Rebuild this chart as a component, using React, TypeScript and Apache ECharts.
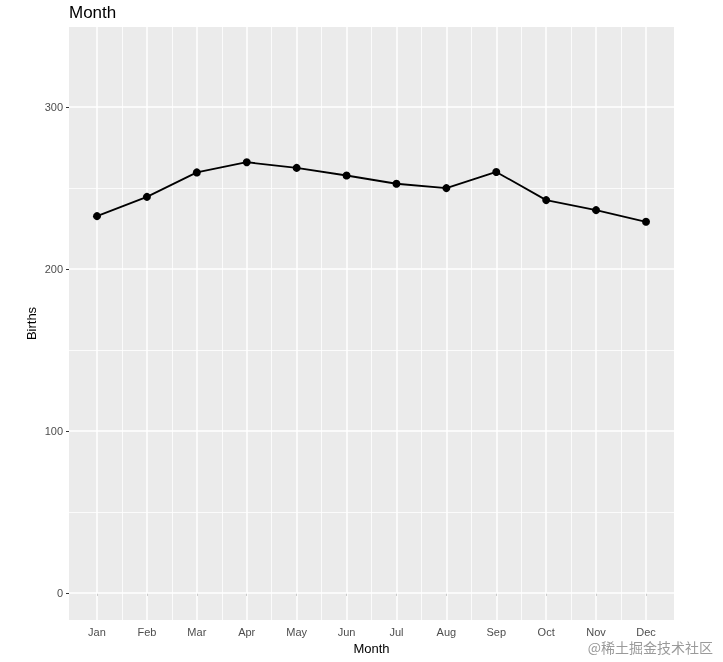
import React, { useEffect, useRef } from "react";
import * as echarts from "echarts";

const months = ["Jan", "Feb", "Mar", "Apr", "May", "Jun", "Jul", "Aug", "Sep", "Oct", "Nov", "Dec"];
const births = [232.7, 244.6, 259.7, 266.0, 262.5, 257.8, 252.7, 250.0, 260.0, 242.6, 236.4, 229.2];
const yTicks = [0, 100, 200, 300];
const yMinor = [50, 150, 250];

export default function App() {
  const ref = useRef<HTMLDivElement>(null);
  useEffect(() => {
    if (!ref.current) return;
    const chart = echarts.init(ref.current, null, { renderer: "svg" });
    const monthIdx = months.map((_, i) => i + 1);
    const xMinor = months.slice(0, -1).map((_, i) => i + 1.5);
    const font = "Liberation Sans, Arial, sans-serif";
    const gridLines = [
      ...yTicks.map((v) => ({ yAxis: v, lineStyle: { color: "#ffffff", width: 1.5, type: "solid" } })),
      ...yMinor.map((v) => ({ yAxis: v, lineStyle: { color: "#ffffff", width: 0.8, type: "solid" } })),
      ...monthIdx.map((v) => ({ xAxis: v, lineStyle: { color: "#ffffff", width: 1.5, type: "solid" } })),
      ...xMinor.map((v) => ({ xAxis: v, lineStyle: { color: "#ffffff", width: 0.8, type: "solid" } })),
    ];
    chart.setOption({
      animation: false,
      textStyle: { fontFamily: font },
      title: {
        text: "Month",
        left: 69,
        top: 4,
        padding: 0,
        textStyle: { fontSize: 17, fontWeight: "normal", color: "#000", fontFamily: font },
      },
      grid: {
        left: 69,
        top: 27,
        width: 605,
        height: 593,
        show: true,
        backgroundColor: "#ebebeb",
        borderWidth: 0,
        containLabel: false,
        outerBoundsMode: "none",
      },
      xAxis: {
        type: "value",
        min: 0.439,
        max: 12.561,
        name: "Month",
        nameLocation: "middle",
        nameGap: 22,
        nameMoveOverlap: false,
        nameTextStyle: { fontSize: 13, color: "#000", fontFamily: font },
        axisLine: { show: false },
        splitLine: { show: false },
        axisTick: { show: true, customValues: monthIdx, length: 3, lineStyle: { color: "#333" } },
        axisLabel: {
          customValues: monthIdx,
          formatter: (v: number) => months[Math.round(v) - 1] ?? "",
          fontSize: 11,
          color: "#4d4d4d",
          margin: 6,
          fontFamily: font,
        },
      },
      yAxis: {
        type: "value",
        min: -16.7,
        max: 349.5,
        name: "Births",
        nameLocation: "middle",
        nameRotate: 90,
        nameGap: 31,
        nameMoveOverlap: false,
        nameTextStyle: { fontSize: 13, color: "#000", fontFamily: font },
        axisLine: { show: false },
        splitLine: { show: false },
        axisTick: { show: true, customValues: yTicks, length: 3, lineStyle: { color: "#333" } },
        axisLabel: {
          customValues: yTicks,
          fontSize: 11,
          color: "#4d4d4d",
          margin: 6,
          fontFamily: font,
        },
      },
      series: [
        {
          type: "line",
          data: months.map((_, i) => [i + 1, births[i]]),
          symbol: "none",
          lineStyle: { opacity: 0 },
          silent: true,
          z: 1,
          markLine: {
            silent: true,
            symbol: "none",
            label: { show: false },
            data: gridLines,
          },
        },
        {
          type: "line",
          data: months.map((_, i) => [i + 1, births[i]]),
          symbol: "circle",
          symbolSize: 8,
          itemStyle: { color: "#000" },
          lineStyle: { color: "#000", width: 1.8 },
          z: 5,
        },
      ],
      graphic: [
        {
          type: "text",
          right: 10,
          top: 640,
          style: {
            text: "@稀土掘金技术社区",
            fontSize: 14,
            fill: "#9a9a9a",
            fontFamily: "Noto Sans CJK SC, sans-serif",
          },
        },
      ],
    });
    return () => chart.dispose();
  }, []);
  return <div ref={ref} style={{ position: "fixed", left: 0, top: 0, width: 723, height: 662 }} />;
}
